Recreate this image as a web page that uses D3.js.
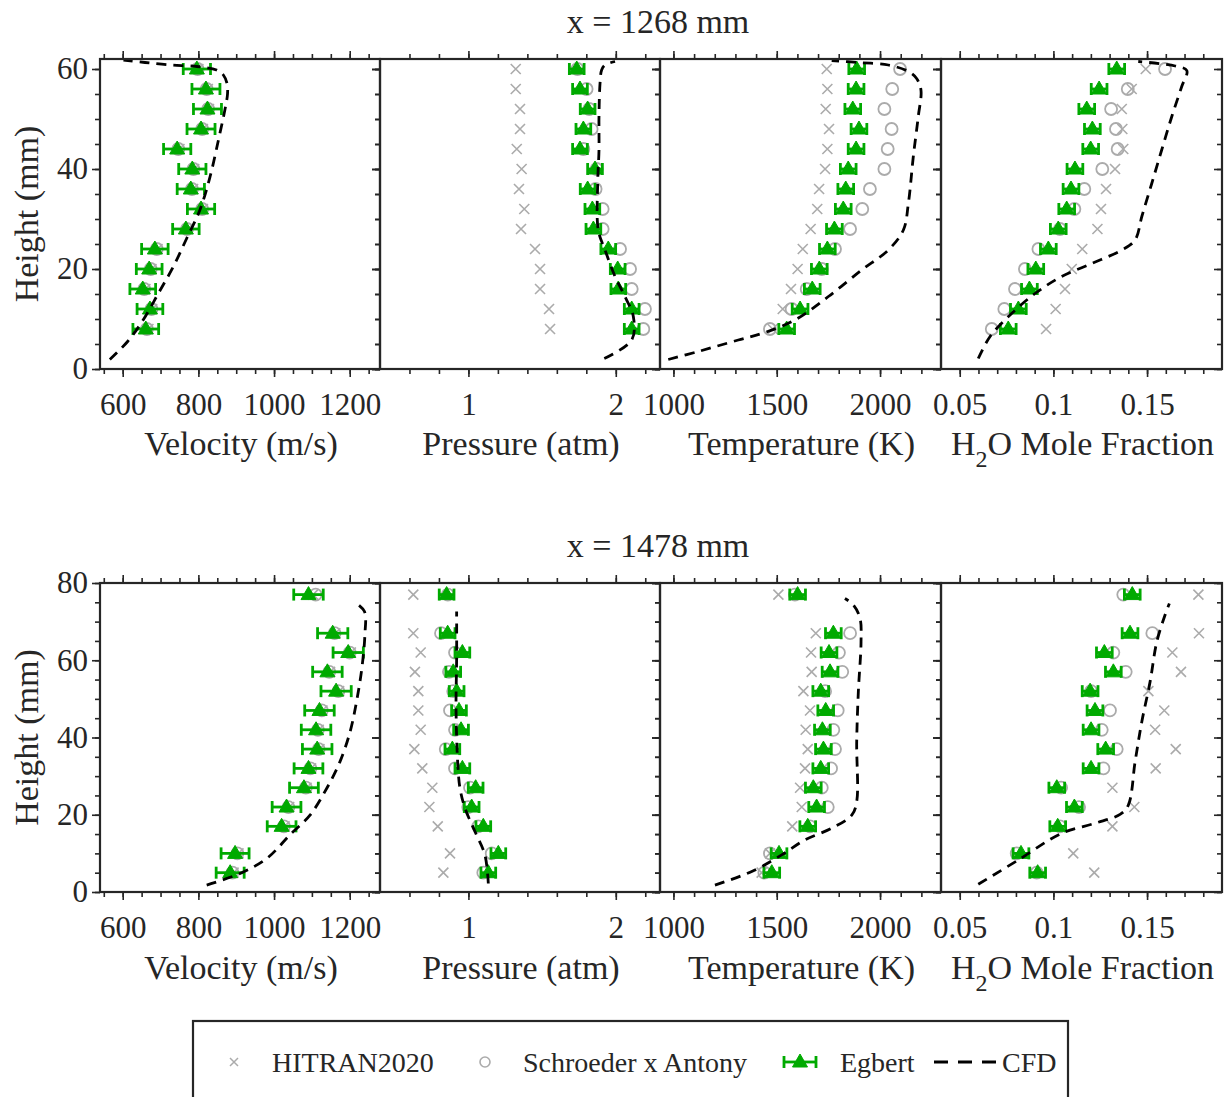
<!DOCTYPE html>
<html><head><meta charset="utf-8">
<script src="https://cdn.jsdelivr.net/npm/d3@7"></script>
<style>
body{margin:0;background:#fff}
svg{display:block}
</style>
</head><body>
<svg id="c" width="1232" height="1097"></svg>
<script>
// ---------------- DATA ----------------
const seriesNames = ["HITRAN2020", "Schroeder x Antony", "Egbert", "CFD"];
const rowTitles = ["x = 1268 mm", "x = 1478 mm"];
const axisTitles = ["Velocity (m/s)", "Pressure (atm)", "Temperature (K)", "H2O Mole Fraction"];

// tick labels
const velTicks = [600, 800, 1000, 1200];
const presTicks = [1, 2];
const tempTicks = [1000, 1500, 2000];
const h2oTicks = [0.05, 0.1, 0.15];
const heightTicksTop = [0, 20, 40, 60];
const heightTicksBot = [0, 20, 40, 60, 80];

// measurement heights (mm)
const heightsTop = [8, 12, 16, 20, 24, 28, 32, 36, 40, 44, 48, 52, 56, 60];
const heightsBot = [5, 10, 17, 22, 27, 32, 37, 42, 47, 52, 57, 62, 67, 77];

// ---- x = 1268 mm ----
const velTopHitran  = [668, 678, 660, 676, 692, 772, 812, 786, 789, 750, 812, 828, 825, 800];
const velTopSchroed = [664, 676, 657, 674, 690, 770, 810, 783, 787, 747, 810, 826, 822, 798];
const velTopEgbert  = [661, 672, 653, 670, 685, 767, 807, 780, 784, 744, 807, 824, 820, 796];
const velTopErr     = [34, 34, 34, 34, 35, 35, 36, 36, 36, 36, 37, 37, 37, 36];
const velTopCfdH    = [1.9, 5.5, 9.8, 15.1, 20.5, 26.1, 31.8, 38.5, 45.8, 51.8, 55, 57, 58.8, 59.8, 60.5, 60.8, 61.3, 61.8];
const velTopCfd     = [566, 613, 654, 694, 734, 769, 804, 831, 853, 870, 877, 876, 866, 848, 796, 725, 659, 602];

const presTopHitran  = [1.554, 1.547, 1.486, 1.486, 1.452, 1.357, 1.379, 1.343, 1.361, 1.328, 1.35, 1.35, 1.321, 1.321];
const presTopSchroed = [2.187, 2.198, 2.108, 2.097, 2.029, 1.911, 1.911, 1.863, 1.87, 1.78, 1.836, 1.82, 1.802, 1.74];
const presTopEgbert  = [2.108, 2.108, 2.017, 2.013, 1.949, 1.848, 1.841, 1.809, 1.859, 1.757, 1.78, 1.809, 1.757, 1.735];
const presTopErr     = [0.05, 0.05, 0.05, 0.05, 0.05, 0.05, 0.05, 0.05, 0.05, 0.05, 0.05, 0.05, 0.05, 0.05];
const presTopCfdH    = [2.1, 5.8, 10.5, 14.5, 18.5, 23.8, 27.8, 37, 43.8, 50.5, 57.1, 59.8, 60.8, 61.5];
const presTopCfd     = [1.922, 2.108, 2.119, 2.062, 1.995, 1.927, 1.881, 1.877, 1.886, 1.886, 1.893, 1.904, 1.927, 1.995];

const tempTopHitran  = [1480, 1529, 1569, 1601, 1626, 1664, 1696, 1705, 1734, 1745, 1753, 1737, 1745, 1742];
const tempTopSchroed = [1467, 1572, 1645, 1718, 1782, 1855, 1914, 1951, 2021, 2037, 2056, 2021, 2059, 2097];
const tempTopEgbert  = [1548, 1613, 1672, 1706, 1745, 1779, 1822, 1834, 1846, 1884, 1898, 1868, 1884, 1887];
const tempTopErr     = [38, 38, 38, 38, 38, 38, 38, 38, 38, 38, 38, 38, 38, 38];
const tempTopCfdH    = [1.9, 3.5, 5.8, 7.3, 9.8, 14.5, 19.8, 23.8, 27.8, 33.1, 42.5, 50.5, 55.8, 58.1, 59.5, 60.8, 61.3, 61.7];
const tempTopCfd     = [975, 1120, 1314, 1443, 1588, 1750, 1911, 2040, 2113, 2137, 2161, 2185, 2198, 2177, 2137, 2040, 1895, 1766];

const h2oTopHitran  = [0.0961, 0.1012, 0.1062, 0.1098, 0.1154, 0.1235, 0.1254, 0.1281, 0.1329, 0.1373, 0.1368, 0.1365, 0.1418, 0.1493];
const h2oTopSchroed = [0.0671, 0.0738, 0.0795, 0.0848, 0.0920, 0.1035, 0.1112, 0.1165, 0.1261, 0.1343, 0.1334, 0.1308, 0.1397, 0.1596];
const h2oTopEgbert  = [0.0759, 0.0813, 0.0872, 0.0906, 0.0973, 0.1026, 0.1071, 0.1094, 0.1115, 0.1199, 0.1208, 0.1178, 0.1244, 0.1338];
const h2oTopErr     = [0.0042, 0.0042, 0.0042, 0.0042, 0.0042, 0.0042, 0.0042, 0.0042, 0.0042, 0.0042, 0.0042, 0.0042, 0.0042, 0.0042];
const h2oTopCfdH    = [2.1, 6.5, 11.1, 15.1, 18.5, 21.1, 23.8, 25.8, 30.5, 37.1, 43.8, 50.5, 56.5, 59.7, 60.6, 61.5];
const h2oTopCfd     = [0.0599, 0.0662, 0.0777, 0.0902, 0.1044, 0.1205, 0.1365, 0.1436, 0.1472, 0.1525, 0.1578, 0.1632, 0.1685, 0.1712, 0.165, 0.1453];

// ---- x = 1478 mm ----
const velBotHitran  = [893, 906, 1028, 1040, 1086, 1098, 1120, 1118, 1128, 1172, 1148, 1203, 1162, 1103];
const velBotSchroed = [890, 903, 1026, 1038, 1084, 1096, 1118, 1116, 1126, 1170, 1146, 1200, 1160, 1110];
const velBotEgbert  = [884, 897, 1020, 1033, 1079, 1091, 1114, 1111, 1120, 1164, 1141, 1196, 1155, 1091];
const velBotErr     = [37, 37, 38, 38, 38, 38, 39, 39, 39, 40, 39, 40, 40, 39];
const velBotCfdH    = [1.8, 4.8, 8.7, 14.8, 19.9, 26.8, 33.7, 41.5, 49.3, 57.9, 66.5, 72.6, 74.7];
const velBotCfd     = [822, 910, 981, 1042, 1095, 1139, 1174, 1201, 1218, 1232, 1240, 1239, 1218];

const presBotHitran  = [0.83, 0.875, 0.792, 0.735, 0.755, 0.687, 0.633, 0.676, 0.66, 0.66, 0.637, 0.676, 0.626, 0.626];
const presBotSchroed = [1.101, 1.158, 1.067, 0.999, 1.011, 0.909, 0.846, 0.909, 0.875, 0.897, 0.868, 0.909, 0.814, 0.86];
const presBotEgbert  = [1.135, 1.203, 1.101, 1.022, 1.049, 0.959, 0.891, 0.95, 0.936, 0.92, 0.897, 0.959, 0.859, 0.852];
const presBotErr     = [0.05, 0.05, 0.05, 0.05, 0.05, 0.05, 0.05, 0.05, 0.05, 0.05, 0.05, 0.05, 0.05, 0.05];
const presBotCfdH    = [2.2, 9.6, 15.6, 21.7, 26.8, 33.7, 47.6, 60.5, 72.6];
const presBotCfd     = [1.135, 1.112, 1.045, 0.977, 0.943, 0.927, 0.916, 0.92, 0.92];

const tempBotHitran  = [1427, 1467, 1575, 1621, 1613, 1637, 1650, 1640, 1661, 1629, 1669, 1666, 1689, 1508];
const tempBotSchroed = [1440, 1467, 1661, 1747, 1718, 1763, 1782, 1774, 1795, 1734, 1817, 1801, 1855, 1588];
const tempBotEgbert  = [1476, 1511, 1650, 1693, 1677, 1713, 1726, 1721, 1737, 1713, 1758, 1753, 1774, 1601];
const tempBotErr     = [38, 38, 38, 38, 38, 38, 38, 38, 38, 38, 38, 38, 38, 38];
const tempBotCfdH    = [1.8, 5.3, 9.6, 13.5, 16.5, 19.9, 23.4, 38.9, 51.9, 64.8, 70.9, 74.3, 76];
const tempBotCfd     = [1201, 1379, 1524, 1637, 1766, 1863, 1887, 1887, 1895, 1908, 1903, 1871, 1830];

const h2oBotHitran  = [0.1218, 0.1106, 0.1315, 0.1432, 0.1315, 0.1546, 0.1653, 0.1543, 0.1592, 0.1507, 0.1681, 0.1635, 0.1777, 0.1774];
const h2oBotSchroed = [0.0911, 0.0804, 0.1035, 0.1137, 0.1041, 0.1267, 0.1338, 0.1258, 0.1302, 0.1201, 0.1386, 0.132, 0.1528, 0.1373];
const h2oBotEgbert  = [0.0916, 0.0827, 0.1023, 0.1112, 0.1018, 0.1201, 0.1279, 0.1201, 0.1222, 0.1196, 0.132, 0.1272, 0.1409, 0.1421];
const h2oBotErr     = [0.0042, 0.0042, 0.0042, 0.0042, 0.0042, 0.0042, 0.0042, 0.0042, 0.0042, 0.0042, 0.0042, 0.0042, 0.0042, 0.0042];
const h2oBotCfdH    = [2.0, 8.3, 15.2, 17.8, 20.1, 22.5, 33.7, 44.1, 54.4, 64.8, 71.7, 74.7];
const h2oBotCfd     = [0.0599, 0.0813, 0.1044, 0.1222, 0.1356, 0.14, 0.1436, 0.1472, 0.1516, 0.1552, 0.1596, 0.1619];

// ---------------- LAYOUT / STYLE ----------------
const FONT = '"Liberation Serif","Times New Roman",serif';
const INK = "#262626";
const GRAY = "#ababab";
const GREEN = "#00aa00";
const TICK_FS = 31, LABEL_FS = 34, TITLE_FS = 34, LEG_FS = 28;

const colX = [[100, 380], [380, 660], [660, 941], [941, 1222]];
const cols = [
  {dom: [540, 1280], major: velTicks, minor: d3.range(550, 1260, 50), fmt: d => String(d)},
  {dom: [0.4, 2.3], major: presTicks, minor: d3.range(0.6, 2.25, 0.2).map(v => +v.toFixed(2)), fmt: d => String(d)},
  {dom: [935, 2295], major: tempTicks, minor: d3.range(1000, 2250, 100), fmt: d => String(d)},
  {dom: [0.04, 0.19], major: h2oTicks, minor: d3.range(0.05, 0.185, 0.01).map(v => +v.toFixed(2)), fmt: d => String(d)}
];
const rows = [
  {title: rowTitles[0], titleY: 33, yr: [369, 59], ydom: [0, 62], yMajor: heightTicksTop, yMinor: d3.range(0, 61, 5),
   heights: heightsTop, labelY: 455,
   sets: [
     [velTopHitran, velTopSchroed, velTopEgbert, velTopErr, velTopCfdH, velTopCfd],
     [presTopHitran, presTopSchroed, presTopEgbert, presTopErr, presTopCfdH, presTopCfd],
     [tempTopHitran, tempTopSchroed, tempTopEgbert, tempTopErr, tempTopCfdH, tempTopCfd],
     [h2oTopHitran, h2oTopSchroed, h2oTopEgbert, h2oTopErr, h2oTopCfdH, h2oTopCfd]]},
  {title: rowTitles[1], titleY: 557, yr: [892, 583], ydom: [0, 80], yMajor: heightTicksBot, yMinor: d3.range(0, 81, 5),
   heights: heightsBot, labelY: 979,
   sets: [
     [velBotHitran, velBotSchroed, velBotEgbert, velBotErr, velBotCfdH, velBotCfd],
     [presBotHitran, presBotSchroed, presBotEgbert, presBotErr, presBotCfdH, presBotCfd],
     [tempBotHitran, tempBotSchroed, tempBotEgbert, tempBotErr, tempBotCfdH, tempBotCfd],
     [h2oBotHitran, h2oBotSchroed, h2oBotEgbert, h2oBotErr, h2oBotCfdH, h2oBotCfd]]}
];

const svg = d3.select("#c");

function styleAxis(sel) {
  sel.attr("font-family", FONT).attr("font-size", TICK_FS).attr("color", INK);
  sel.select(".domain").remove();
  sel.selectAll(".tick line").attr("stroke-width", 1.6);
  sel.selectAll(".tick text").attr("fill", INK);
}

const xPath = "M-5,-5L5,5M-5,5L5,-5";
const triPath = "M0,-8L7.5,5L-7.5,5Z";

function drawEgbert(g, cx, cy, x0, x1) {
  const c = g.append("g");
  c.append("line").attr("x1", x0).attr("x2", x1).attr("y1", cy).attr("y2", cy)
    .attr("stroke", GREEN).attr("stroke-width", 2.8);
  [x0, x1].forEach(xx => c.append("line").attr("x1", xx).attr("x2", xx).attr("y1", cy - 6).attr("y2", cy + 6)
    .attr("stroke", GREEN).attr("stroke-width", 2.8));
  c.append("path").attr("d", triPath).attr("transform", `translate(${cx},${cy})`).attr("fill", GREEN)
    .attr("stroke", GREEN).attr("stroke-width", 1);
}

rows.forEach((row, ri) => {
  const y = d3.scaleLinear().domain(row.ydom).range(row.yr);
  svg.append("text").attr("x", 658).attr("y", row.titleY).attr("text-anchor", "middle")
    .attr("font-family", FONT).attr("font-size", TITLE_FS).attr("fill", INK).text(row.title);

  cols.forEach((col, ci) => {
    const x = d3.scaleLinear().domain(col.dom).range(colX[ci]);
    const g = svg.append("g");
    const yb = row.yr[0], yt = row.yr[1], xl = colX[ci][0], xr = colX[ci][1];

    // ticks
    g.append("g").attr("transform", `translate(0,${yb})`)
      .call(d3.axisBottom(x).tickValues(col.minor).tickSize(5).tickSizeOuter(0).tickFormat("")).call(styleAxis);
    g.append("g").attr("transform", `translate(0,${yb})`)
      .call(d3.axisBottom(x).tickValues(col.major).tickSize(8).tickPadding(16).tickSizeOuter(0).tickFormat(col.fmt)).call(styleAxis);
    g.append("g").attr("transform", `translate(0,${yt})`)
      .call(d3.axisTop(x).tickValues(col.minor).tickSize(5).tickSizeOuter(0).tickFormat("")).call(styleAxis);
    g.append("g").attr("transform", `translate(0,${yt})`)
      .call(d3.axisTop(x).tickValues(col.major).tickSize(8).tickSizeOuter(0).tickFormat("")).call(styleAxis);
    g.append("g").attr("transform", `translate(${xl},0)`)
      .call(d3.axisLeft(y).tickValues(row.yMinor).tickSize(5).tickSizeOuter(0).tickFormat("")).call(styleAxis);
    g.append("g").attr("transform", `translate(${xl},0)`)
      .call(d3.axisLeft(y).tickValues(row.yMajor).tickSize(8).tickPadding(4).tickSizeOuter(0)
        .tickFormat(ci === 0 ? (d => String(d)) : "")).call(styleAxis);
    g.append("g").attr("transform", `translate(${xr},0)`)
      .call(d3.axisRight(y).tickValues(row.yMinor).tickSize(-5).tickSizeOuter(0).tickFormat("")).call(styleAxis);
    g.append("g").attr("transform", `translate(${xr},0)`)
      .call(d3.axisRight(y).tickValues(row.yMajor).tickSize(-8).tickSizeOuter(0).tickFormat("")).call(styleAxis);

    const [hit, sch, egb, err, cfdH, cfd] = row.sets[ci];
    const marks = g.append("g");
    // HITRAN crosses
    marks.selectAll(".hx").data(row.heights.map((h, i) => [h, hit[i]])).join("path")
      .attr("d", xPath).attr("transform", d => `translate(${x(d[1])},${y(d[0])})`)
      .attr("stroke", GRAY).attr("stroke-width", 1.6).attr("fill", "none");
    // Schroeder circles
    marks.selectAll(".sc").data(row.heights.map((h, i) => [h, sch[i]])).join("circle")
      .attr("cx", d => x(d[1])).attr("cy", d => y(d[0])).attr("r", 6)
      .attr("stroke", GRAY).attr("stroke-width", 1.8).attr("fill", "none");
    // Egbert
    row.heights.forEach((h, i) => drawEgbert(marks, x(egb[i]), y(h), x(egb[i] - err[i]), x(egb[i] + err[i])));
    // CFD
    const line = d3.line().x(d => x(d[1])).y(d => y(d[0])).curve(d3.curveCatmullRom.alpha(0.5));
    marks.append("path").datum(cfdH.map((h, i) => [h, cfd[i]])).attr("d", line)
      .attr("fill", "none").attr("stroke", "#000").attr("stroke-width", 2.8).attr("stroke-dasharray", "10,7");

    // frame
    g.append("rect").attr("x", xl).attr("y", yt).attr("width", xr - xl).attr("height", yb - yt)
      .attr("fill", "none").attr("stroke", INK).attr("stroke-width", 2.2);

    // axis title
    const cx = (xl + xr) / 2;
    const t = svg.append("text").attr("x", cx + 1).attr("y", row.labelY).attr("text-anchor", "middle")
      .attr("font-family", FONT).attr("font-size", LABEL_FS).attr("fill", INK);
    if (ci === 3) {
      t.append("tspan").text("H");
      t.append("tspan").attr("font-size", 24).attr("dy", 12).text("2");
      t.append("tspan").attr("dy", -12).text("O Mole Fraction");
    } else {
      t.text(axisTitles[ci]);
    }
  });

  // y label
  svg.append("text").attr("transform", `translate(38,${(row.yr[0] + row.yr[1]) / 2}) rotate(-90)`)
    .attr("text-anchor", "middle").attr("font-family", FONT).attr("font-size", LABEL_FS).attr("fill", INK)
    .text("Height (mm)");
});

// ---------------- LEGEND ----------------
const leg = svg.append("g");
leg.append("rect").attr("x", 193).attr("y", 1021).attr("width", 875).attr("height", 100)
  .attr("fill", "#fff").attr("stroke", INK).attr("stroke-width", 2.2);
const ly = 1062;
leg.append("path").attr("d", "M-4,-4L4,4M-4,4L4,-4").attr("transform", `translate(234,${ly})`)
  .attr("stroke", GRAY).attr("stroke-width", 1.5).attr("fill", "none");
leg.append("circle").attr("cx", 485).attr("cy", ly).attr("r", 5).attr("stroke", GRAY).attr("stroke-width", 1.6).attr("fill", "none");
drawEgbert(leg, 800, ly, 784, 816);
leg.append("line").attr("x1", 934).attr("x2", 996).attr("y1", ly).attr("y2", ly)
  .attr("stroke", "#000").attr("stroke-width", 2.8).attr("stroke-dasharray", "14,10");
[[272, seriesNames[0]], [523, seriesNames[1]], [840, seriesNames[2]], [1002, seriesNames[3]]].forEach(([xx, s]) =>
  leg.append("text").attr("x", xx).attr("y", ly + 10).attr("font-family", FONT).attr("font-size", LEG_FS)
    .attr("fill", INK).text(s));
</script>
</body></html>
